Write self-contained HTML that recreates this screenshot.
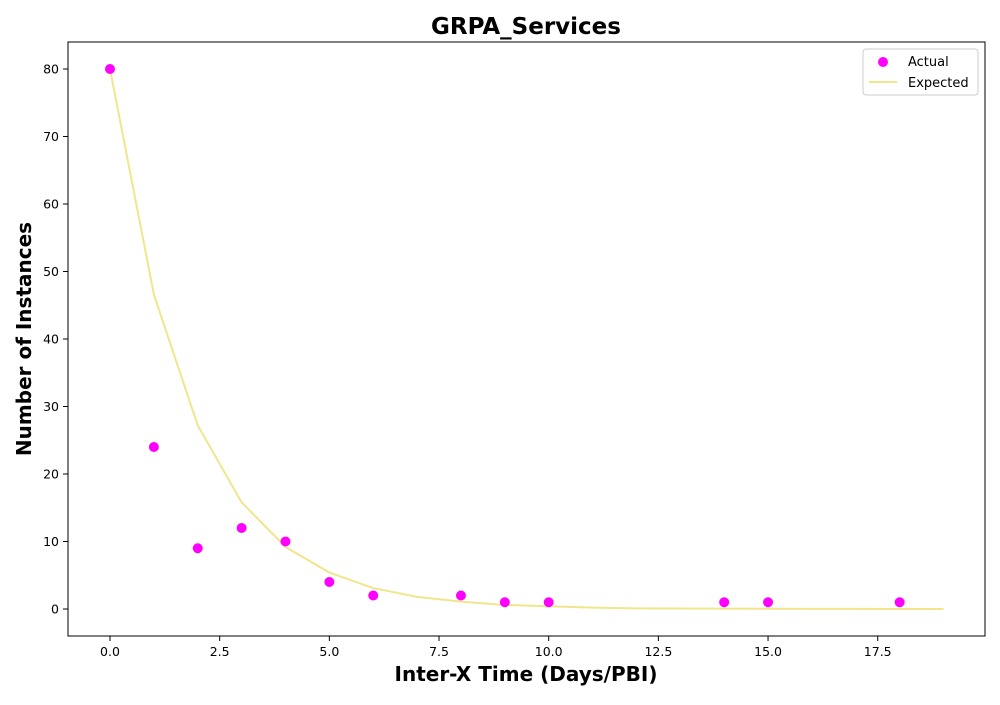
<!DOCTYPE html>
<html><head><meta charset="utf-8"><style>
body{margin:0;background:#fff;font-family:"Liberation Sans","DejaVu Sans",sans-serif;}
</style></head><body>
<svg id="chart" width="1000" height="700" xmlns="http://www.w3.org/2000/svg">
<text x="526" y="34" text-anchor="middle" font-size="23" font-weight="bold" font-family="DejaVu Sans, Liberation Sans, sans-serif">GRPA_Services</text>
<rect x="68" y="42" width="917" height="594" fill="none" stroke="#000" stroke-width="1"/>
<g id="xticks"></g>
<g id="yticks"></g>
<g id="series"></g>
<text x="526" y="681" text-anchor="middle" font-size="20" font-weight="bold" font-family="DejaVu Sans, Liberation Sans, sans-serif">Inter-X Time (Days/PBI)</text>
<text transform="translate(31,339) rotate(-90)" text-anchor="middle" font-size="20" font-weight="bold" font-family="DejaVu Sans, Liberation Sans, sans-serif">Number of Instances</text>
<g>
<rect x="863" y="49" width="115" height="46" rx="3" fill="#fff" stroke="#ccc"/>
<circle cx="883" cy="62" r="5" fill="#ff00ff"/>
<text x="908" y="66" font-size="13" font-family="DejaVu Sans, Liberation Sans, sans-serif">Actual</text>
<line x1="869" y1="82" x2="897" y2="82" stroke="#f0e68c" stroke-width="2"/>
<text x="908" y="87" font-size="13" font-family="DejaVu Sans, Liberation Sans, sans-serif">Expected</text>
</g>
</svg>
<script>
const actualX=[0,1,2,3,4,5,6,8,9,10,14,15,18];
const actualY=[80,24,9,12,10,4,2,2,1,1,1,1,1];
const expectedX=[0,1,2,3,4,5,6,7,8,9,10,11,12,13,14,15,16,17,18,19];
const expectedY=[80,46.6,27.2,15.8,9.2,5.4,3.1,1.8,1.1,0.6,0.4,0.2,0.1,0.08,0.05,0.03,0.02,0.01,0.006,0.003];
const xTicks=[0,2.5,5,7.5,10,12.5,15,17.5];
const xTickLabels=["0.0","2.5","5.0","7.5","10.0","12.5","15.0","17.5"];
const yTicks=[0,10,20,30,40,50,60,70,80];
const NS="http://www.w3.org/2000/svg";
function sx(v){return 110+v*43.87;}
function sy(v){return 609-v*6.75;}
function mk(t,a,p){const e=document.createElementNS(NS,t);for(const k in a)e.setAttribute(k,a[k]);p.appendChild(e);return e;}
const xg=document.getElementById('xticks'),yg=document.getElementById('yticks'),sg=document.getElementById('series');
xTicks.forEach((v,i)=>{
 const l=mk('line',{x1:sx(v),x2:sx(v),y1:636,y2:641,stroke:'#000'},xg);
 
 
 const t=mk('text',{x:sx(v),y:656,'text-anchor':'middle','font-size':12.5,'font-family':'DejaVu Sans, Liberation Sans, sans-serif'},xg);
 t.textContent=xTickLabels[i];
 
 
});
yTicks.forEach(v=>{
 const l=mk('line',{x1:63,x2:68,y1:sy(v),y2:sy(v),stroke:'#000'},yg);
 
 
 const t=mk('text',{x:59,y:sy(v)+4.5,'text-anchor':'end','font-size':12.5,'font-family':'DejaVu Sans, Liberation Sans, sans-serif'},yg);
 t.textContent=String(v);
 
 
});
const pts=expectedX.map((x,i)=>sx(x)+','+sy(expectedY[i])).join(' ');
const pl=mk('polyline',{points:pts,fill:'none',stroke:'#f0e68c','stroke-width':2},sg);


actualX.forEach((x,i)=>{
 const c=mk('circle',{cx:sx(x),cy:sy(actualY[i]),r:5,fill:'#ff00ff'},sg);
 
 
});
</script>
</body></html>
